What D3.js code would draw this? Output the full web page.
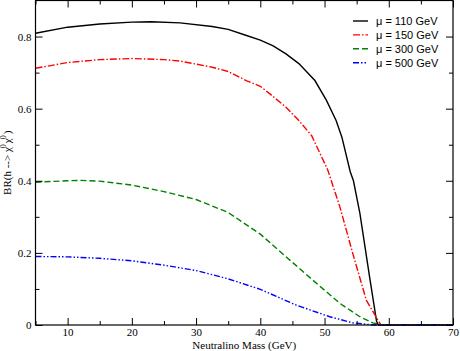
<!DOCTYPE html>
<html>
<head>
<meta charset="utf-8">
<script src="https://cdn.jsdelivr.net/npm/d3@7"></script>
<style>
  body { margin: 0; background: #fff; }
  svg { display: block; }
</style>
</head>
<body>
<script>
// Chart size and plot frame
var width = 460,
    height = 351;
var margin = {left: 35.5, right: 7, top: 0.5, bottom: 26};

// Neutralino mass samples (GeV) and BR for each mu
var mass110 = [5, 10, 15, 20, 23, 27.5, 32.5, 35, 37.5, 40, 42, 44, 46, 48.5, 50.3, 51.8, 52.7, 54, 54.5, 55.5, 57, 58.1, 58.4, 70];
var br110   = [0.809, 0.826, 0.835, 0.840, 0.841, 0.838, 0.828, 0.82, 0.805, 0.79, 0.774, 0.752, 0.725, 0.678, 0.623, 0.567, 0.521, 0.425, 0.40, 0.31, 0.135, 0.01, 0, 0];

var mass150 = [5, 10, 15, 20, 25, 27.5, 32.5, 35, 37.8, 40, 41.5, 44, 46, 48, 50.5, 52.4, 54.4, 56.5, 58, 58.8, 70];
var br150   = [0.712, 0.728, 0.736, 0.739, 0.736, 0.732, 0.715, 0.703, 0.678, 0.662, 0.641, 0.604, 0.567, 0.525, 0.43, 0.327, 0.198, 0.069, 0.023, 0, 0];

var mass300 = [5, 10, 12, 15, 20, 25, 30, 35, 40, 44.6, 48.2, 52.4, 55.5, 57.5, 59, 70];
var br300   = [0.396, 0.400, 0.401, 0.399, 0.388, 0.37, 0.348, 0.312, 0.252, 0.18, 0.124, 0.06, 0.023, 0.006, 0, 0];

var mass500 = [5, 10, 15, 20, 25, 30, 35, 40, 45.6, 50.8, 54.4, 57.5, 70];
var br500   = [0.19, 0.189, 0.185, 0.178, 0.166, 0.151, 0.128, 0.099, 0.055, 0.023, 0.006, 0, 0];

var seriesNames = ["\u03bc = 110 GeV", "\u03bc = 150 GeV", "\u03bc = 300 GeV", "\u03bc = 500 GeV"];
var seriesColors = ["#000000", "#ff0000", "#008000", "#0000ff"];
var seriesDash = ["none", "7,2,1.5,2", "6,3", "6,2,1.5,2,1.5,2"];

var xMajor = [10, 20, 30, 40, 50, 60, 70];
var xMinor = [5, 15, 25, 35, 45, 55, 65];
var yMajor = [0, 0.2, 0.4, 0.6, 0.8];
var yMinor = [0.1, 0.3, 0.5, 0.7];

var series = [
    {x: mass110, y: br110},
    {x: mass150, y: br150},
    {x: mass300, y: br300},
    {x: mass500, y: br500}
];

var serif = "'Liberation Serif', 'Times New Roman', serif";
var sans = "'Liberation Sans', Arial, sans-serif";

// Scales
var x = d3.scaleLinear()
    .domain([5, 70])
    .range([margin.left, width - margin.right]);

var y = d3.scaleLinear()
    .domain([0, 0.9])
    .range([height - margin.bottom, margin.top]);

var svg = d3.select("body").append("svg")
    .attr("width", width)
    .attr("height", height);

// Curves
var line = d3.line()
    .x(function(d) { return x(d[0]); })
    .y(function(d) { return y(d[1]); });

series.forEach(function(s, i) {
    svg.append("path")
        .datum(d3.zip(s.x, s.y))
        .attr("fill", "none")
        .attr("stroke", seriesColors[i])
        .attr("stroke-width", 1.4)
        .attr("stroke-dasharray", seriesDash[i])
        .attr("d", line);
});

// Frame
svg.append("rect")
    .attr("x", x(5))
    .attr("y", y(0.9))
    .attr("width", x(70) - x(5))
    .attr("height", y(0) - y(0.9))
    .attr("fill", "none")
    .attr("stroke", "#000")
    .attr("stroke-width", 1.2);

// Axes with inward ticks
function styleAxis(g) {
    g.select(".domain").remove();
    g.selectAll(".tick line").attr("stroke", "#000").attr("stroke-width", 1);
    g.selectAll("text")
        .attr("fill", "#000")
        .style("font-family", serif)
        .style("font-size", "11px");
}

svg.append("g")
    .attr("transform", "translate(0," + y(0) + ")")
    .call(d3.axisBottom(x).tickValues(xMajor).tickSize(-7).tickPadding(3).tickFormat(d3.format("d")))
    .call(styleAxis);
svg.append("g")
    .attr("transform", "translate(0," + y(0) + ")")
    .call(d3.axisBottom(x).tickValues(xMinor).tickSize(-4).tickFormat(""))
    .call(styleAxis);
svg.append("g")
    .attr("transform", "translate(0," + y(0.9) + ")")
    .call(d3.axisTop(x).tickValues(xMajor).tickSize(-7).tickFormat(""))
    .call(styleAxis);
svg.append("g")
    .attr("transform", "translate(0," + y(0.9) + ")")
    .call(d3.axisTop(x).tickValues(xMinor).tickSize(-4).tickFormat(""))
    .call(styleAxis);

svg.append("g")
    .attr("transform", "translate(" + x(5) + ",0)")
    .call(d3.axisLeft(y).tickValues(yMajor).tickSize(-7).tickPadding(4)
        .tickFormat(function(d) { return d === 0 ? "0" : d3.format(".1f")(d); }))
    .call(styleAxis);
svg.append("g")
    .attr("transform", "translate(" + x(5) + ",0)")
    .call(d3.axisLeft(y).tickValues(yMinor).tickSize(-4).tickFormat(""))
    .call(styleAxis);
svg.append("g")
    .attr("transform", "translate(" + x(70) + ",0)")
    .call(d3.axisRight(y).tickValues(yMajor).tickSize(-7).tickFormat(""))
    .call(styleAxis);
svg.append("g")
    .attr("transform", "translate(" + x(70) + ",0)")
    .call(d3.axisRight(y).tickValues(yMinor).tickSize(-4).tickFormat(""))
    .call(styleAxis);

// Axis titles
svg.append("text")
    .attr("x", (x(5) + x(70)) / 2)
    .attr("y", 348.5)
    .attr("text-anchor", "middle")
    .style("font-family", serif)
    .style("font-size", "11px")
    .text("Neutralino Mass (GeV)");

var yTitle = svg.append("text")
    .attr("transform", "translate(11," + ((y(0) + y(0.9)) / 2) + ") rotate(-90)")
    .attr("text-anchor", "middle")
    .style("font-family", serif)
    .style("font-size", "11px");
yTitle.append("tspan").text("BR(h --> \u03c7");
yTitle.append("tspan").attr("dy", -5).attr("dx", -1).style("font-size", "8px").text("0");
yTitle.append("tspan").attr("dy", 5).attr("dx", 1).text("\u03c7");
yTitle.append("tspan").attr("dy", -5).attr("dx", -1).style("font-size", "8px").text("0");
yTitle.append("tspan").attr("dy", 5).attr("dx", 1).text(")");

// Legend
var legend = svg.append("g")
    .attr("transform", "translate(353,21)");

seriesNames.forEach(function(name, i) {
    var row = legend.append("g")
        .attr("transform", "translate(0," + (i * 13.9) + ")");
    row.append("line")
        .attr("x1", 0)
        .attr("x2", 15)
        .attr("y1", 0)
        .attr("y2", 0)
        .attr("stroke", seriesColors[i])
        .attr("stroke-width", 1.4)
        .attr("stroke-dasharray", seriesDash[i]);
    row.append("text")
        .attr("x", 23)
        .attr("y", 4)
        .style("font-family", sans)
        .style("font-size", "11px")
        .text(name);
});
</script>
</body>
</html>
